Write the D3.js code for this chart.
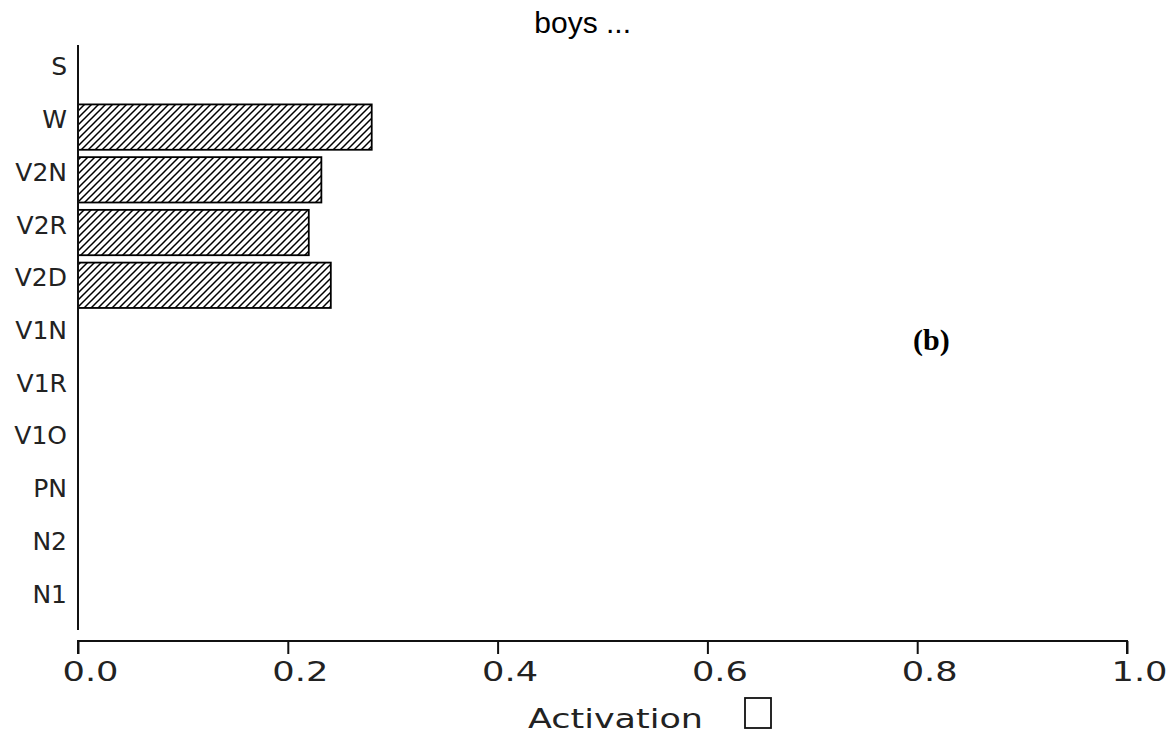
<!DOCTYPE html>
<html>
<head>
<meta charset="utf-8">
<script src="https://cdn.jsdelivr.net/npm/d3@7"></script>
<style>
  html, body { margin: 0; padding: 0; background: #fff; }
  svg { display: block; }
</style>
</head>
<body>
<svg id="chart" width="1175" height="736"></svg>
<script>
// Output units, listed top to bottom
const categories = ["S", "W", "V2N", "V2R", "V2D", "V1N", "V1R", "V1O", "PN", "N2", "N1"];
// Activation level of each unit
const activation = [0, 0.280, 0.232, 0.220, 0.241, 0, 0, 0, 0, 0, 0];
const xTicks = [0, 0.2, 0.4, 0.6, 0.8, 1.0];
const xTickLabels = ["0.0", "0.2", "0.4", "0.6", "0.8", "1.0"];
const title = "boys ...";
const panelTag = "(b)";
const xTitle = "Activation";

const svg = d3.select("#chart");
const labelFont = "'DejaVu Sans', sans-serif";

const x = d3.scaleLinear().domain([0, 1]).range([78, 1127]);
const y = d3.scaleBand().domain(categories).range([48, 628])
  .paddingInner(0.14).paddingOuter(0.07);

// Diagonal hatch fill
const defs = svg.append("defs");
const pat = defs.append("pattern")
  .attr("id", "hatch")
  .attr("patternUnits", "userSpaceOnUse")
  .attr("width", 7).attr("height", 7);
pat.append("path")
  .attr("d", "M-1,8 L8,-1 M-4.5,4.5 L4.5,-4.5 M2.5,11.5 L11.5,2.5")
  .attr("stroke", "#000").attr("stroke-width", 1.5);

// Title
svg.append("text")
  .attr("x", 631).attr("y", 33)
  .attr("text-anchor", "end")
  .attr("font-family", "'Liberation Sans', Arial, sans-serif")
  .attr("font-size", 30)
  .attr("fill", "#000")
  .text(title);

// Bars
svg.append("g").selectAll("rect")
  .data(categories.map((c, i) => ({ c, v: activation[i] })).filter(d => d.v > 0))
  .join("rect")
  .attr("x", x(0))
  .attr("y", d => y(d.c))
  .attr("width", d => x(d.v) - x(0))
  .attr("height", y.bandwidth())
  .attr("fill", "url(#hatch)")
  .attr("stroke", "#000")
  .attr("stroke-width", 1.8);

// Vertical axis line and category labels
svg.append("line")
  .attr("x1", 78).attr("x2", 78)
  .attr("y1", 45).attr("y2", 630)
  .attr("stroke", "#111").attr("stroke-width", 2);

svg.append("g").selectAll("text")
  .data(categories)
  .join("text")
  .attr("x", 67)
  .attr("y", d => y(d) + y.bandwidth() / 2 - 8)
  .attr("dy", "0.36em")
  .attr("text-anchor", "end")
  .attr("font-family", labelFont)
  .attr("font-size", 25)
  .attr("fill", "#222")
  .text(d => d);

// Horizontal axis
const xAxis = d3.axisBottom(x)
  .tickValues(xTicks)
  .tickFormat((d, i) => xTickLabels[i])
  .tickSize(13);

const gx = svg.append("g")
  .attr("transform", "translate(0,641)")
  .call(xAxis);
gx.select(".domain").attr("stroke", "#111").attr("stroke-width", 2)
  .attr("d", `M${x(0)},13V0H${x(1)}V13`);
gx.selectAll(".tick line").attr("stroke", "#111").attr("stroke-width", 2);
gx.selectAll(".tick text")
  .attr("font-family", labelFont)
  .attr("font-size", 27)
  .attr("fill", "#222")
  .attr("y", 40)
  .attr("dy", 0)
  .attr("x", 12)
  .attr("textLength", 56)
  .attr("lengthAdjust", "spacingAndGlyphs");

// Axis title with empty box marker
svg.append("text")
  .attr("x", 528).attr("y", 728)
  .attr("font-family", labelFont)
  .attr("font-size", 27)
  .attr("fill", "#222")
  .attr("textLength", 175)
  .attr("lengthAdjust", "spacingAndGlyphs")
  .text(xTitle);

svg.append("rect")
  .attr("x", 745).attr("y", 698)
  .attr("width", 26).attr("height", 30)
  .attr("fill", "none")
  .attr("stroke", "#111").attr("stroke-width", 1.8);

// Panel tag
svg.append("text")
  .attr("x", 913).attr("y", 350)
  .attr("font-family", "'Liberation Serif', 'Times New Roman', serif")
  .attr("font-size", 30)
  .attr("font-weight", "bold")
  .attr("fill", "#000")
  .text(panelTag);
</script>
</body>
</html>
